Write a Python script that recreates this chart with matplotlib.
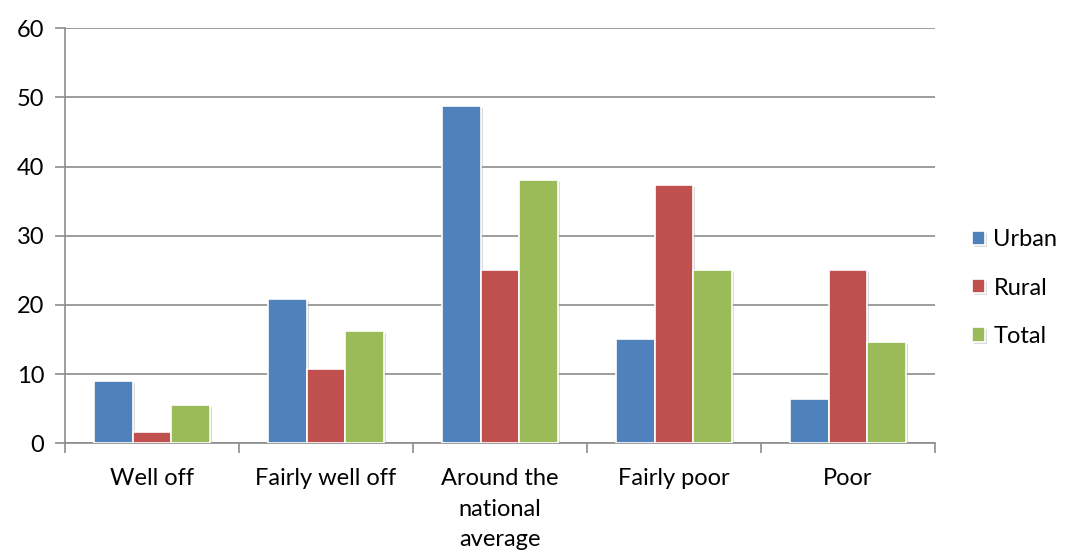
import numpy as np
import matplotlib
matplotlib.use("Agg")
import matplotlib.pyplot as plt
import matplotlib.patheffects as pe

plt.rcParams['font.family'] = ['Lato', 'DejaVu Sans']

categories = ['Well off', 'Fairly well off', 'Around the\nnational\naverage', 'Fairly poor', 'Poor']
urban = [9.0, 20.8, 48.7, 15.0, 6.4]
rural = [1.6, 10.7, 25.1, 37.3, 25.1]
total = [5.5, 16.2, 38.0, 25.1, 14.7]
series = [('Urban', urban, '#4f81bd'), ('Rural', rural, '#c0504d'), ('Total', total, '#9bbb59')]

fig = plt.figure(figsize=(10.66, 5.52), dpi=100)
ax = fig.add_axes([0.061, 0.197, 0.816, 0.752])

x = np.arange(len(categories))
w = 0.222
shadow = [pe.SimplePatchShadow(offset=(1.5, -1.5), shadow_rgbFace='#999999', alpha=0.35), pe.Normal()]
for i, (name, vals, col) in enumerate(series):
    bars = ax.bar(x + (i - 1) * w, vals, w, color=col, edgecolor='white', linewidth=1.2,
                  label=name, zorder=3)
    for b in bars:
        b.set_path_effects(shadow)

ax.set_xlim(-0.5, len(categories) - 0.5)
ax.set_ylim(0, 60)
ax.set_yticks(range(0, 61, 10))
ax.yaxis.grid(True, color='#8c8c8c', linewidth=1.2, zorder=0)
ax.set_axisbelow(True)

ax.set_xticks(x)
ax.set_xticklabels(categories, fontsize=17, linespacing=1.55)
ax.set_xticks(np.arange(-0.5, len(categories)), minor=True)
ax.tick_params(axis='x', which='major', length=0, pad=18)
ax.tick_params(axis='x', which='minor', length=7, color='#8c8c8c', width=1.2)
ax.tick_params(axis='y', length=7, color='#8c8c8c', width=1.2, labelsize=17, pad=8)

for s in ['top', 'right']:
    ax.spines[s].set_visible(False)
for s in ['left', 'bottom']:
    ax.spines[s].set_color('#8c8c8c')
    ax.spines[s].set_linewidth(1.2)

ax.legend(loc='center left', bbox_to_anchor=(0.912, 0.478), bbox_transform=fig.transFigure,
          frameon=False, fontsize=17, handlelength=0.55, handleheight=0.55,
          handletextpad=0.35, labelspacing=1.15, borderaxespad=0, borderpad=0)

fig.savefig('out.png', dpi=100)
